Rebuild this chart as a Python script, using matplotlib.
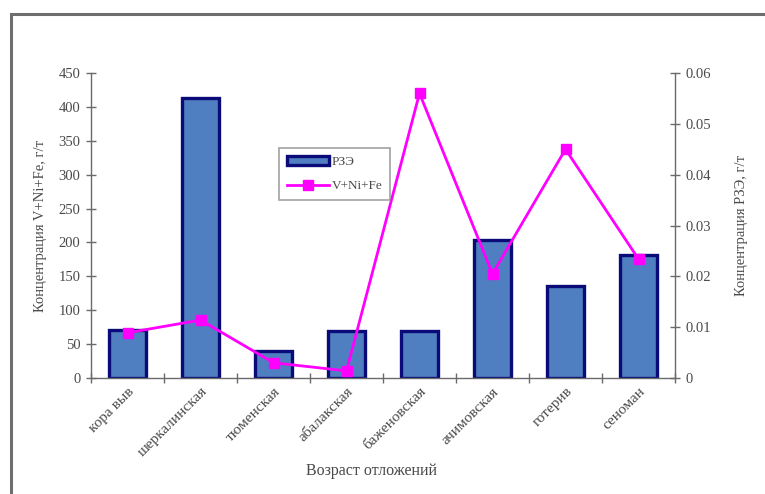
import numpy as np
import matplotlib.pyplot as plt
from matplotlib.patches import Rectangle

plt.rcParams['font.family'] = ['Liberation Serif', 'DejaVu Serif']

categories = ["кора выв", "шеркалинская", "тюменская", "абалакская",
              "баженовская", "ачимовская", "готерив", "сеноман"]
ree = [71, 413, 40, 69, 70, 204, 136, 181]
v_ni_fe = [0.0089, 0.0114, 0.0030, 0.0014, 0.0560, 0.0205, 0.0450, 0.0234]

text_col = "#4a4a4a"
axis_col = "#6a6a6a"

fig = plt.figure(figsize=(7.65, 4.94), dpi=100)

# outer frame of the chart area
fig.patches.append(Rectangle((11 / 765, -0.02), 1.0, 1 - 14 / 494 + 0.02,
                             transform=fig.transFigure, fill=False,
                             edgecolor="#6e6e6e", linewidth=2.2))

ax = fig.add_axes([91 / 765, 1 - 378 / 494, 584 / 765, 305 / 494])
x = np.arange(len(categories))

bars = ax.bar(x, ree, width=0.5, color="#4f7fc0", edgecolor="#0a0a78",
              linewidth=2.4, label="РЗЭ", zorder=2)
ax.set_xlim(-0.5, len(categories) - 0.5)
ax.set_ylim(0, 450)
ax.set_yticks(np.arange(0, 451, 50))

ax2 = ax.twinx()
line, = ax2.plot(x, v_ni_fe, color="#ff00ff", lw=2, marker="s",
                 markersize=7, label="V+Ni+Fe", zorder=3)
ax2.set_ylim(0, 0.06)
ax2.set_yticks([0, 0.01, 0.02, 0.03, 0.04, 0.05, 0.06])
ax2.set_yticklabels(["0", "0.01", "0.02", "0.03", "0.04", "0.05", "0.06"])

for a in (ax, ax2):
    a.spines["top"].set_visible(False)
    for s in ("left", "right", "bottom"):
        a.spines[s].set_color(axis_col)
        a.spines[s].set_linewidth(1)
    a.tick_params(axis="y", direction="inout", length=7, width=1,
                  color=axis_col, labelcolor=text_col, labelsize=10.5, pad=4)

ax.spines["right"].set_visible(False)
ax2.spines["left"].set_visible(False)
ax2.spines["bottom"].set_visible(False)

ax.set_xticks(x)
ax.set_xticklabels(categories, rotation=45, ha="right", rotation_mode="anchor",
                   color=text_col, fontsize=11)
ax.tick_params(axis="x", which="major", length=0, pad=5)
ax.set_xticks(np.arange(-0.5, len(categories)), minor=True)
ax.tick_params(axis="x", which="minor", direction="inout", length=7,
               width=1, color=axis_col)

ax.set_ylabel("Концентрация V+Ni+Fe, г/т", color=text_col, fontsize=10.5,
              labelpad=8)
ax2.set_ylabel("Концентрация РЗЭ, г/т", color=text_col, fontsize=10.5,
               labelpad=17)
ax.set_xlabel("Возраст отложений", color=text_col, fontsize=11.5)
ax.xaxis.set_label_coords(0.48, -0.28)

leg = ax2.legend([bars, line], ["РЗЭ", "V+Ni+Fe"],
                 loc="upper left", bbox_to_anchor=(0.31, 0.775),
                 frameon=True, fancybox=False, fontsize=9.5,
                 handlelength=3.2, borderpad=0.6, labelspacing=0.9,
                 handletextpad=0.2, labelcolor=text_col)
leg.get_frame().set_edgecolor("#8a8a8a")
leg.get_frame().set_linewidth(1.2)

fig.savefig("out.png", dpi=100)
